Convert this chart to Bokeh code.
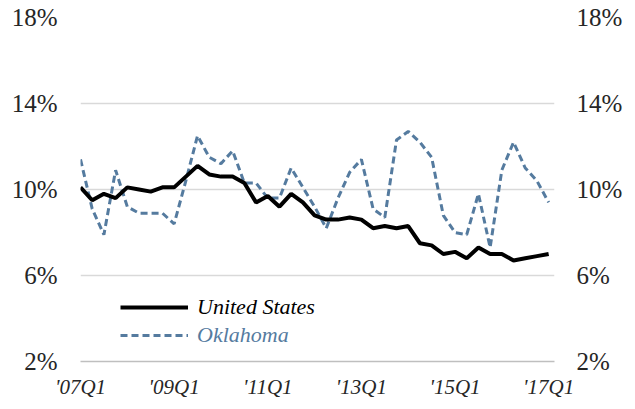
from bokeh.plotting import figure
from bokeh.models import (Range1d, FixedTicker, LinearAxis, Legend, LegendItem,
                          ColumnDataSource)
from bokeh.embed import file_html
from bokeh.resources import INLINE

# ---- data (quarterly, 2007Q1 .. 2017Q1) ----
quarters = [f"{y}Q{q}" for y in range(2007, 2018) for q in range(1, 5)][:41]
us = [10.1, 9.5, 9.8, 9.6, 10.1, 10.0, 9.9, 10.1, 10.1, 10.6,
      11.1, 10.7, 10.6, 10.6, 10.3, 9.4, 9.7, 9.2, 9.8, 9.4,
      8.8, 8.6, 8.6, 8.7, 8.6, 8.2, 8.3, 8.2, 8.3, 7.5,
      7.4, 7.0, 7.1, 6.8, 7.3, 7.0, 7.0, 6.7, 6.8, 6.9, 7.0]
oklahoma = [11.4, 9.1, 7.9, 10.9, 9.2, 8.9, 8.9, 8.9, 8.4, 10.4,
            12.5, 11.5, 11.2, 11.8, 10.3, 10.3, 9.6, 9.6, 11.0, 10.1,
            9.2, 8.2, 9.6, 10.8, 11.4, 9.1, 8.7, 12.3, 12.7, 12.2,
            11.5, 8.8, 8.0, 7.9, 9.8, 7.3, 10.9, 12.2, 11.0, 10.4, 9.4]
x_tick_labels = {0: "'07Q1", 8: "'09Q1", 16: "'11Q1", 24: "'13Q1", 32: "'15Q1", 40: "'17Q1"}
y_ticks = [2, 6, 10, 14, 18]

idx = list(range(len(quarters)))
src = ColumnDataSource(data=dict(x=idx, us=us, ok=oklahoma))

FONT = "Liberation Serif"
TXT = "#262626"
OK_COLOR = "#557b9f"

p = figure(width=627, height=401, output_backend="svg", toolbar_location=None,
           x_range=Range1d(0, 40.5), y_range=Range1d(2, 18),
           min_border_left=80, min_border_right=73, min_border_top=17,
           min_border_bottom=39, outline_line_color=None)
p.background_fill_color = "white"

p.xgrid.grid_line_color = None
p.ygrid.grid_line_color = "#d9d9d9"
p.ygrid.grid_line_width = 1.3
p.ygrid.ticker = FixedTicker(ticks=y_ticks)

axis_common = dict(major_tick_line_color=None, minor_tick_line_color=None,
                   major_tick_out=0, major_tick_in=0, minor_tick_out=0,
                   minor_tick_in=0, axis_label=None,
                   major_label_text_font=FONT, major_label_text_color=TXT)

# x axis
xa = p.xaxis[0]
xa.update(ticker=FixedTicker(ticks=list(x_tick_labels.keys())),
          major_label_overrides=x_tick_labels,
          axis_line_color="#bfbfbf", axis_line_width=1.5,
          major_label_text_font_style="italic",
          major_label_text_font_size="21px", major_label_standoff=13,
          **axis_common)

# left y axis
ya = p.yaxis[0]
ya.update(ticker=FixedTicker(ticks=y_ticks),
          major_label_overrides={t: f"{t}%" for t in y_ticks},
          axis_line_color=None, major_label_text_font_size="25px",
          major_label_standoff=23, **axis_common)

# right y axis
ra = LinearAxis(ticker=FixedTicker(ticks=y_ticks),
                major_label_overrides={t: f"{t}%" for t in y_ticks},
                axis_line_color=None, major_label_text_font_size="25px",
                major_label_standoff=22, **axis_common)
p.add_layout(ra, "right")

r_ok = p.line("x", "ok", source=src, line_color=OK_COLOR, line_width=3,
              line_dash="7 4")
r_us = p.line("x", "us", source=src, line_color="black", line_width=4)

common = dict(border_line_color=None, background_fill_alpha=0, padding=0, margin=0,
              glyph_width=68, glyph_height=20, label_height=20, label_standoff=9,
              label_text_font=FONT, label_text_font_style="italic",
              label_text_font_size="22px")
leg_us = Legend(items=[LegendItem(label="United States", renderers=[r_us])],
                location=(40, 41), label_text_color="black", **common)
leg_ok = Legend(items=[LegendItem(label="Oklahoma", renderers=[r_ok])],
                location=(40, 13), label_text_color=OK_COLOR, **common)
p.add_layout(leg_us, "center")
p.add_layout(leg_ok, "center")

open("out.html", "w").write(file_html(p, INLINE))
